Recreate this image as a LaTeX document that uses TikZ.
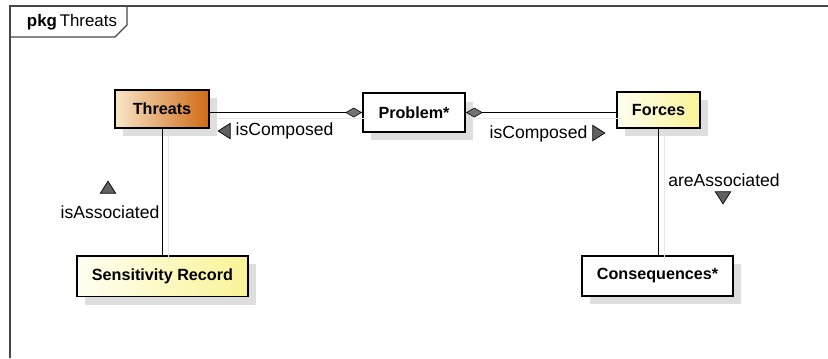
\documentclass[tikz,border=0pt]{standalone}
\usepackage{fontspec}
\setmainfont{Liberation Sans}
\usetikzlibrary{arrows.meta, positioning, shapes.geometric, shadows}
\definecolor{thrlight}{RGB}{249,230,200}
\definecolor{thrdark}{RGB}{207,106,20}
\definecolor{ylight}{RGB}{255,255,242}
\definecolor{ydark}{RGB}{250,243,150}
\definecolor{shgray}{RGB}{222,222,222}
\definecolor{framegray}{RGB}{70,70,70}

\tikzset{
  classbox/.style={draw=black, line width=1.3pt, inner sep=0pt,
    font=\fontsize{11.5}{13}\selectfont\bfseries,
    general shadow={fill=shgray, shadow xshift=2mm, shadow yshift=-2.1mm}},
  yellowbox/.style={classbox, left color=ylight, right color=ydark},
  rolelabel/.style={font=\fontsize{12.5}{14}\selectfont, inner sep=1pt},
  dirmark/.style={isosceles triangle, isosceles triangle apex angle=65,
    draw=black, line width=0.5pt, fill=black!62, inner sep=0pt,
    minimum height=3mm, minimum width=3.1mm},
  assoc/.style={line width=0.6pt},
  lineshadow/.style={black!9, line width=0.6pt},
  aggr/.tip={Diamond[length=4.2mm, width=2.4mm, fill=black!55, line width=0.4pt]}
}

\begin{document}
\begin{tikzpicture}[x=0.025cm, y=-0.025cm]
\useasboundingbox (0,0) rectangle (828,358);

% package frame
\draw[framegray, line width=0.8pt] (828,6) -- (10,6) -- (10,358);
\draw[framegray, line width=0.8pt] (10,37) -- (115,37) -- (127,25) -- (127,6);
\node[anchor=west, font=\fontsize{12}{14}\selectfont] (pkgname) at (22,22)
  {\textbf{pkg}\,Threats};

% classes
\node[classbox, left color=thrlight, right color=thrdark,
  minimum width=23.5mm, minimum height=9.5mm] (threats) at (162,109) {Threats};
\node[classbox, fill=white,
  minimum width=25.5mm, minimum height=9.7mm] (problem) at (414,112.5) {Problem*};
\node[yellowbox,
  minimum width=20.8mm, minimum height=9mm] (forces) at (658.5,110) {Forces};
\node[yellowbox,
  minimum width=42.8mm, minimum height=10.2mm] (sensitivity) at (162.5,276) {Sensitivity Record};
\node[classbox, fill=white,
  minimum width=37.8mm, minimum height=10mm] (consequences) at (657.5,276) {Consequences*};

% faint line shadows
\begin{scope}[transform canvas={xshift=1.5mm, yshift=-1.5mm}]
\draw[lineshadow] (threats.east |- problem.west) -- (problem.west);
\draw[lineshadow] (problem.east) -- (forces.west |- problem.east);
\draw[lineshadow] (threats.south) -- (threats.south |- sensitivity.north);
\draw[lineshadow] (consequences.north -| forces.south) -- (forces.south);
\end{scope}

% associations
\draw[assoc, -aggr] (threats.east |- problem.west) -- (problem.west);
\draw[assoc, aggr-] (problem.east) -- (forces.west |- problem.east);
\draw[assoc] (threats.south) -- (threats.south |- sensitivity.north);
\draw[assoc] (forces.south) -- (forces.south |- consequences.north);

% role names and reading directions
\node[dirmark, shape border rotate=180] (leftmark) at (226,131) {};
\node[rolelabel, anchor=west] (composedleft) at (234,131) {isComposed};

\node[rolelabel, anchor=east] (composedright) at (589,134) {isComposed};
\node[dirmark] (rightmark) at (597,133) {};

\node[dirmark, shape border rotate=90] (upmark) at (108,189) {};
\node[rolelabel] (associated) at (110,212) {isAssociated};

\node[rolelabel] (areassociated) at (724,180) {areAssociated};
\node[dirmark, shape border rotate=270] (downmark) at (723,196) {};
\end{tikzpicture}
\end{document}
